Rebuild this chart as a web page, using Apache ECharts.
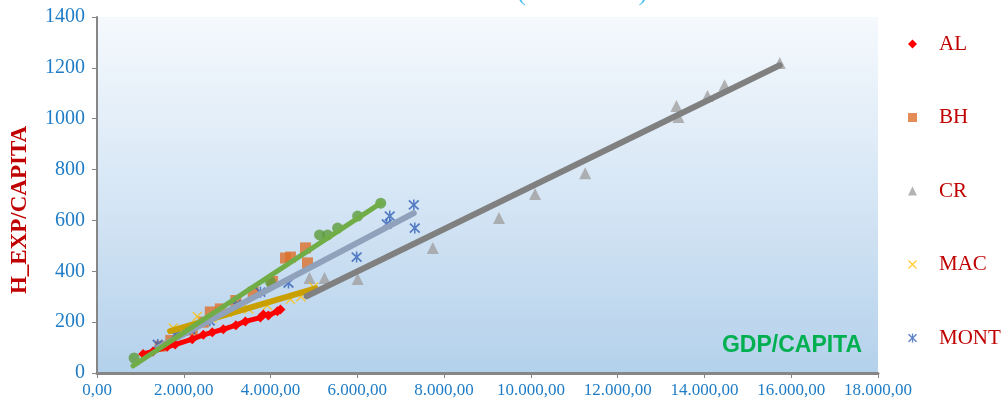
<!DOCTYPE html>
<html><head><meta charset="utf-8">
<script src="https://cdn.jsdelivr.net/npm/echarts/dist/echarts.min.js"></script>
<style>html,body{margin:0;padding:0;background:#fff}#c{width:1008px;height:405px}</style>
</head><body><div id="c"></div>
<script>
// ---- data (GDP/CAPITA, H_EXP/CAPITA) ----
const alData = [[1063,75],[1290,85],[1617,103],[1800,112],[2195,133],[2450,150],[2657,160],[2911,172],[3200,188],[3420,203],[3766,218],[3835,230],[3950,226],[4159,243],[4228,250]];
const bhData = [[1456,105],[1700,128],[2195,169],[2450,200],[2611,240],[2842,252],[3200,285],[3600,318],[4043,360],[4344,452],[4459,456],[4806,492],[4852,433]];
const crData = [[4898,374],[5245,374],[6007,370],[7740,492],[9265,610],[10097,704],[11252,786],[13355,1050],[13401,1007],[14071,1089],[14464,1132],[15735,1219]];
const macData = [[1756,177],[1900,168],[2310,222],[2650,215],[3000,238],[3500,252],[3928,265],[4459,290],[4700,300],[4990,338]];
const montData = [[1400,112],[1800,150],[2149,172],[2600,205],[3200,268],[3766,318],[4413,354],[5984,456],[6677,586],[6747,617],[7301,661],[7324,570]];
const srbData = [[855,59],[3997,358],[5129,543],[5314,543],[5545,570],[6007,617],[6539,668]];
// trend line end points
const bhTrend = [[1456,105],[4852,475]];
const crTrend = [[4829,302],[15735,1210]];
const macTrend = [[1687,165],[5037,333]];
const montTrend = [[1409,100],[7301,629]];
const srbTrend = [[830,28],[6539,668]];
const legendNames = ['AL','BH','CR','MAC','MONT'];
const xTickLabels = ['0,00','2.000,00','4.000,00','6.000,00','8.000,00','10.000,00','12.000,00','14.000,00','16.000,00','18.000,00'];
const yTickLabels = ['0','200','400','600','800','1000','1200','1400'];

const X_PATH = 'path://M1,0L5,4L9,0L10,1L6,5L10,9L9,10L5,6L1,10L0,9L4,5L0,1Z';
const AST_PATH = 'path://M1.2,0.3L5,4.1L8.8,0.3L10,1.5L6.2,5L10,8.5L8.8,9.7L5,5.9L1.2,9.7L0,8.5L3.8,5L0,1.5Z M4.3,0L5.7,0L5.7,10L4.3,10Z';

function trend(data, color, width, z) {
  return {type:'line', data:data, showSymbol:false, symbol:'none', silent:true, z:z,
    lineStyle:{color:color, width:width, cap:'round'}, itemStyle:{color:color}};
}

const chart = echarts.init(document.getElementById('c'), null, {renderer:'canvas'});
chart.setOption({
  animation:false,
  backgroundColor:'#ffffff',
  grid:{left:97, right:130, top:17, bottom:32, show:true, borderWidth:0,
    backgroundColor:{type:'linear', x:0, y:0, x2:0, y2:1,
      colorStops:[{offset:0,color:'#f5f9fd'},{offset:0.5,color:'#d6e6f5'},{offset:1,color:'#b4d1eb'}]}},
  xAxis:{type:'value', min:0, max:18000, interval:2000,
    axisLine:{show:true, onZero:false, lineStyle:{color:'#868686', width:3}},
    axisTick:{show:true, length:5, lineStyle:{color:'#868686', width:1}},
    splitLine:{show:false},
    axisLabel:{margin:9, color:'#1f7cc6', fontFamily:'Liberation Serif', fontSize:17,
      formatter:v => xTickLabels[Math.round(v/2000)]}},
  yAxis:{type:'value', min:0, max:1400, interval:200,
    axisLine:{show:true, lineStyle:{color:'#868686', width:2}},
    axisTick:{show:true, length:5, lineStyle:{color:'#868686', width:1}},
    splitLine:{show:false},
    axisLabel:{margin:12, color:'#1f7cc6', fontFamily:'Liberation Serif', fontSize:20,
      formatter:v => yTickLabels[Math.round(v/200)]}},
  legend:{orient:'vertical', left:903, top:28, itemWidth:9, itemHeight:9, itemGap:51.5,
    textStyle:{fontFamily:'Liberation Serif', fontSize:21, color:'#c00000', lineHeight:22, padding:[0,0,0,17]},
    data:[{name:'AL', icon:'diamond'},{name:'BH', icon:'rect'},{name:'CR', icon:'triangle'},
          {name:'MAC', icon:X_PATH},{name:'MONT', icon:AST_PATH}]},
  graphic:[
    {type:'text', x:505, y:-20, style:{text:'SEE countries (2000-2014)', font:'26px "Liberation Serif"', fill:'#4cc2f0', textAlign:'center'}},
    {type:'text', x:20, y:210, rotation:Math.PI/2, style:{text:'H_EXP/CAPITA', font:'bold 23px "Liberation Serif"', fill:'#c00000', textAlign:'center', textVerticalAlign:'middle'}},
    {type:'text', x:792, y:346, z:100, style:{text:'GDP/CAPITA', font:'bold 23px "Liberation Sans"', fill:'#00b050', textAlign:'center', textVerticalAlign:'middle'}}
  ],
  series:[
    {name:'BH', type:'scatter', data:bhData, symbol:'rect', symbolSize:11, itemStyle:{color:'#dc6f2b'}, z:2},
    {name:'CR', type:'scatter', data:crData, symbol:'triangle', symbolSize:12, itemStyle:{color:'#a0a0a0'}, z:2},
    {name:'MAC', type:'scatter', data:macData, symbol:X_PATH, symbolSize:10, itemStyle:{color:'#ffc000'}, z:2},
    {name:'MONT', type:'scatter', data:montData, symbol:AST_PATH, symbolSize:11, itemStyle:{color:'#3563b8'}, z:2},
    {name:'SRB', type:'scatter', data:srbData, symbol:'circle', symbolSize:11, itemStyle:{color:'#5d9c3a'}, z:2},
    trend(macTrend, '#c9a000', 6, 3),
    trend(crTrend, '#808080', 6, 3),
    trend(montTrend, '#8fa1bb', 6, 4),
    trend(bhTrend, '#f07c30', 2, 4),
    {name:'AL', type:'line', data:alData, symbol:'diamond', symbolSize:10, showSymbol:true, z:5,
      lineStyle:{color:'#ff0000', width:5}, itemStyle:{color:'#ff0000'}},
    trend(srbTrend, '#70ad47', 5, 6)
  ]
});
</script></body></html>
